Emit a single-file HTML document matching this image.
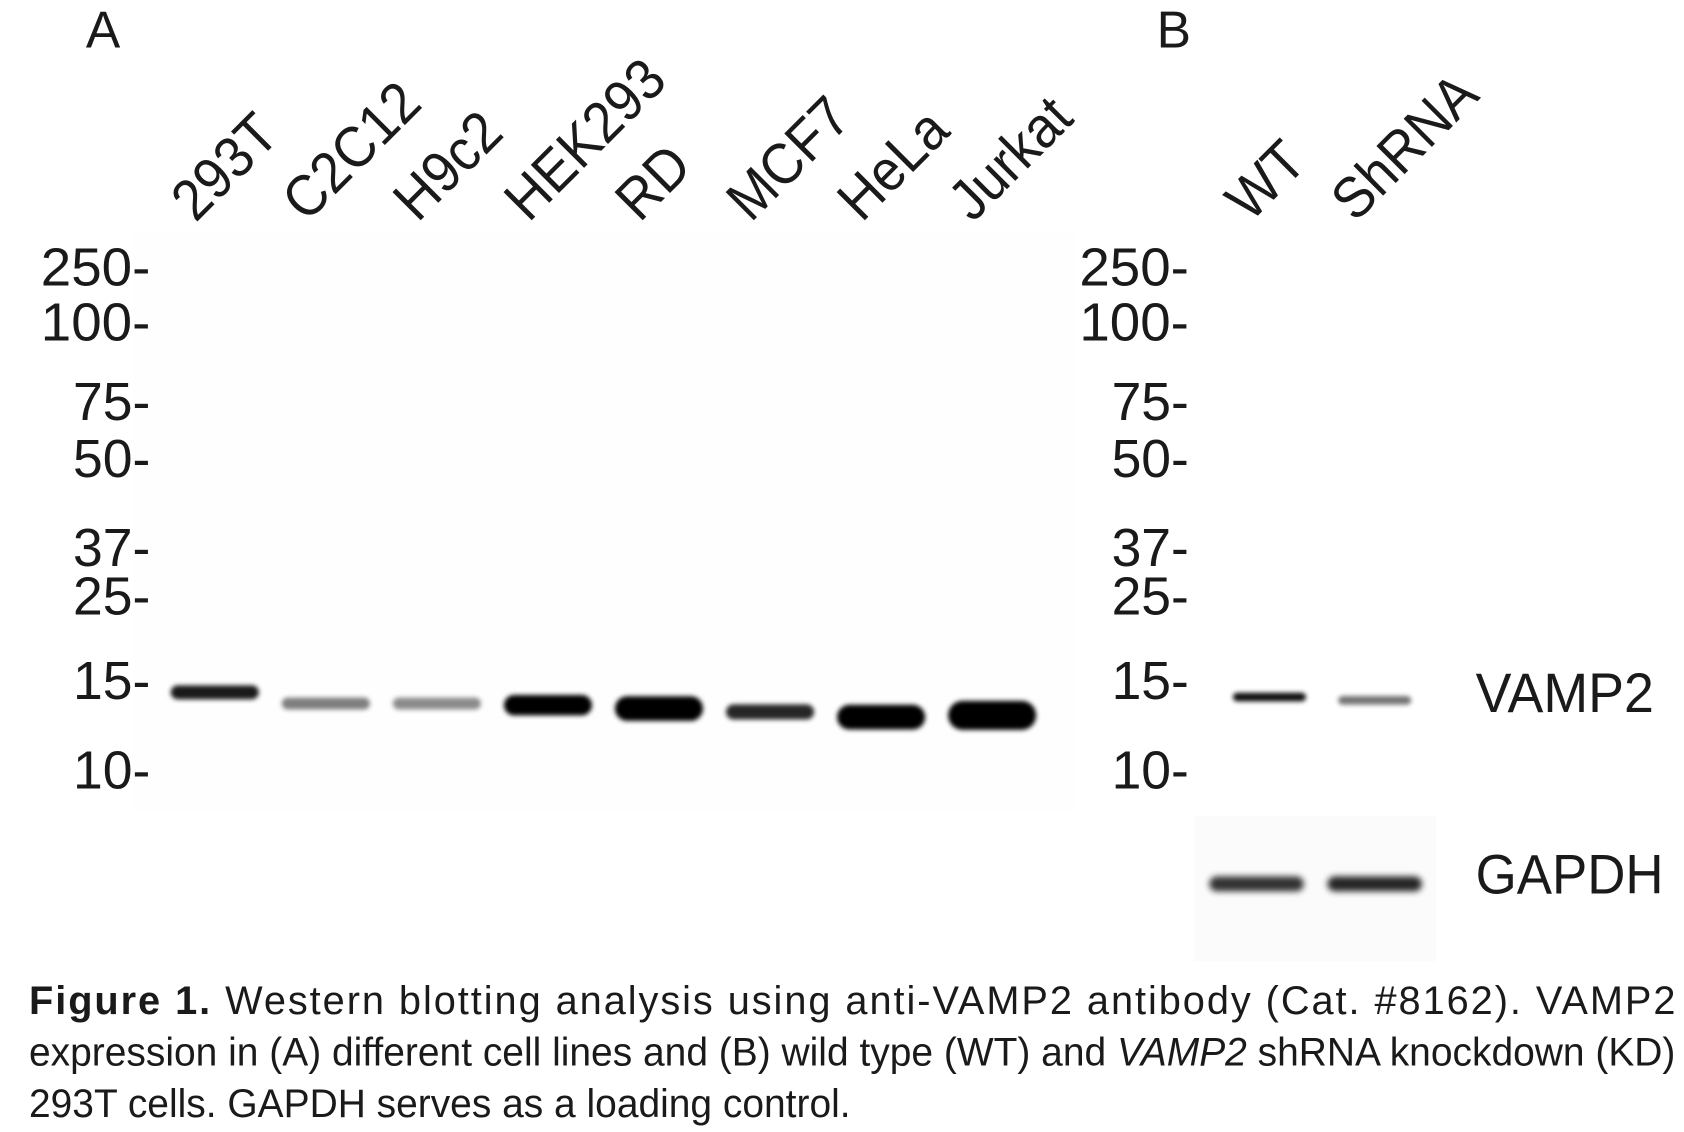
<!DOCTYPE html>
<html><head><meta charset="utf-8"><style>
html,body{margin:0;padding:0;background:#fff;}
svg{display:block;}
text{font-family:"Liberation Sans",sans-serif;fill:#1a1a1a;}
</style></head><body>
<svg id="fig" width="1684" height="1132" viewBox="0 0 1568 1054" xmlns="http://www.w3.org/2000/svg">
<defs>
<filter id="blur" x="-20%" y="-100%" width="140%" height="300%"><feGaussianBlur stdDeviation="2.2"/></filter>
<filter id="blur2" x="-20%" y="-100%" width="140%" height="300%"><feGaussianBlur stdDeviation="3"/></filter>
</defs>
<rect x="125" y="215" width="875" height="540" fill="#fefefe"/>
<rect x="1112" y="760" width="225" height="135" fill="#fbfbfb"/>
<text x="80" y="44" font-size="48">A</text>
<text x="1077" y="44" font-size="48">B</text>
<g id="lanesA"></g>
<g id="lanesB"></g>
<g id="ticksA"></g>
<g id="ticksB"></g>
<g id="bandsA"></g>
<g id="bandsB"></g>
<text x="1374" y="663" font-size="52" textLength="166" lengthAdjust="spacingAndGlyphs">VAMP2</text>
<text x="1374" y="832" font-size="52" textLength="175" lengthAdjust="spacingAndGlyphs">GAPDH</text>
<g font-size="37">
<text x="27" y="944" textLength="1533" lengthAdjust="spacing"><tspan font-weight="bold">Figure 1.</tspan> Western blotting analysis using anti-VAMP2 antibody (Cat. #8162). VAMP2</text>
<text x="27" y="992" textLength="1533" lengthAdjust="spacingAndGlyphs">expression in (A) different cell lines and (B) wild type (WT) and <tspan font-style="italic">VAMP2</tspan> shRNA knockdown (KD)</text>
<text x="27" y="1040" textLength="765" lengthAdjust="spacingAndGlyphs">293T cells. GAPDH serves as a loading control.</text>
</g>
</svg>
<script>
const NS = "http://www.w3.org/2000/svg";
// Data
const markers = [250, 100, 75, 50, 37, 25, 15, 10];
const markerY = [247, 298, 372, 425, 508, 553, 632, 715];
const lanesA = ["293T","C2C12","H9c2","HEK293","RD","MCF7","HeLa","Jurkat"];
const vampMW_A = [14.1, 13.4, 13.4, 13.3, 13.1, 12.9, 12.6, 12.7];
const vampIntensity_A = [0.9, 0.5, 0.45, 1.0, 1.0, 0.85, 1.0, 1.0];
const vampThickness_A = [13, 11, 11, 19, 23, 14, 23, 27];
const lanesB = ["WT","ShRNA"];
const vampMW_B = [13.8, 13.6];
const vampIntensity_B = [0.95, 0.55];
const gapdhIntensity_B = [0.8, 0.85];

function mwToY(mw){
  for(let i=0;i<markers.length-1;i++){
    const a=markers[i], b=markers[i+1];
    if(mw<=a && mw>=b){
      const f=(Math.log(a)-Math.log(mw))/(Math.log(a)-Math.log(b));
      return markerY[i]+f*(markerY[i+1]-markerY[i]);
    }
  }
  const a=markers[markers.length-2], b=markers[markers.length-1];
  const f=(Math.log(a)-Math.log(mw))/(Math.log(a)-Math.log(b));
  return markerY[markers.length-2]+f*(markerY[markers.length-1]-markerY[markers.length-2]);
}
function laneXA(i){ return 200 + i*103.4; }
function laneXB(i){ return 1182 + i*98; }

function mk(tag, attrs, parent){
  const e=document.createElementNS(NS,tag);
  for(const k in attrs) e.setAttribute(k, attrs[k]);
  parent.appendChild(e); return e;
}
[["ticksA",140],["ticksB",1107]].forEach(([id,right])=>{
  const g=document.getElementById(id);
  markers.forEach((m,i)=>{
    const t=mk("text",{x:right,y:markerY[i]+19,"font-size":50,"text-anchor":"end"},g);
    
    
    const s=String(m)+"-";
    t.setAttribute("textLength", s.length===4?102:72);
    t.setAttribute("lengthAdjust","spacingAndGlyphs");
    t.textContent=s;
  });
});
function laneLabel(g, name, x, y){
  const t=mk("text",{x:0,y:0,"font-size":54,transform:`translate(${x},${y}) rotate(-45) scale(0.92,1)`},g);
  
  
  t.textContent=name;
}
const gla=document.getElementById("lanesA");
lanesA.forEach((n,i)=>laneLabel(gla,n,laneXA(i)-18,208));
const glb=document.getElementById("lanesB");
lanesB.forEach((n,i)=>laneLabel(glb,n,laneXB(i)-18,208));
function band(g,name,cx,cy,w,h,op,filt){
  const r=mk("rect",{x:cx-w/2,y:cy-h/2,width:w,height:h,rx:h/2,ry:h/2,fill:"#000","fill-opacity":op,filter:`url(#${filt})`},g);
  
  
}
const gba=document.getElementById("bandsA");
lanesA.forEach((n,i)=>{
  band(gba,'band-vamp2-'+n.toLowerCase(),laneXA(i),mwToY(vampMW_A[i]),82,vampThickness_A[i],vampIntensity_A[i],"blur");
});
const gbb=document.getElementById("bandsB");
lanesB.forEach((n,i)=>{
  band(gbb,'band-vamp2-'+n.toLowerCase(),laneXB(i),mwToY(vampMW_B[i]),68,8,vampIntensity_B[i],"blur");
  band(gbb,'band-gapdh-'+n.toLowerCase(),1170+i*110,823,88,14,gapdhIntensity_B[i],"blur2");
});
</script>
</body></html>
